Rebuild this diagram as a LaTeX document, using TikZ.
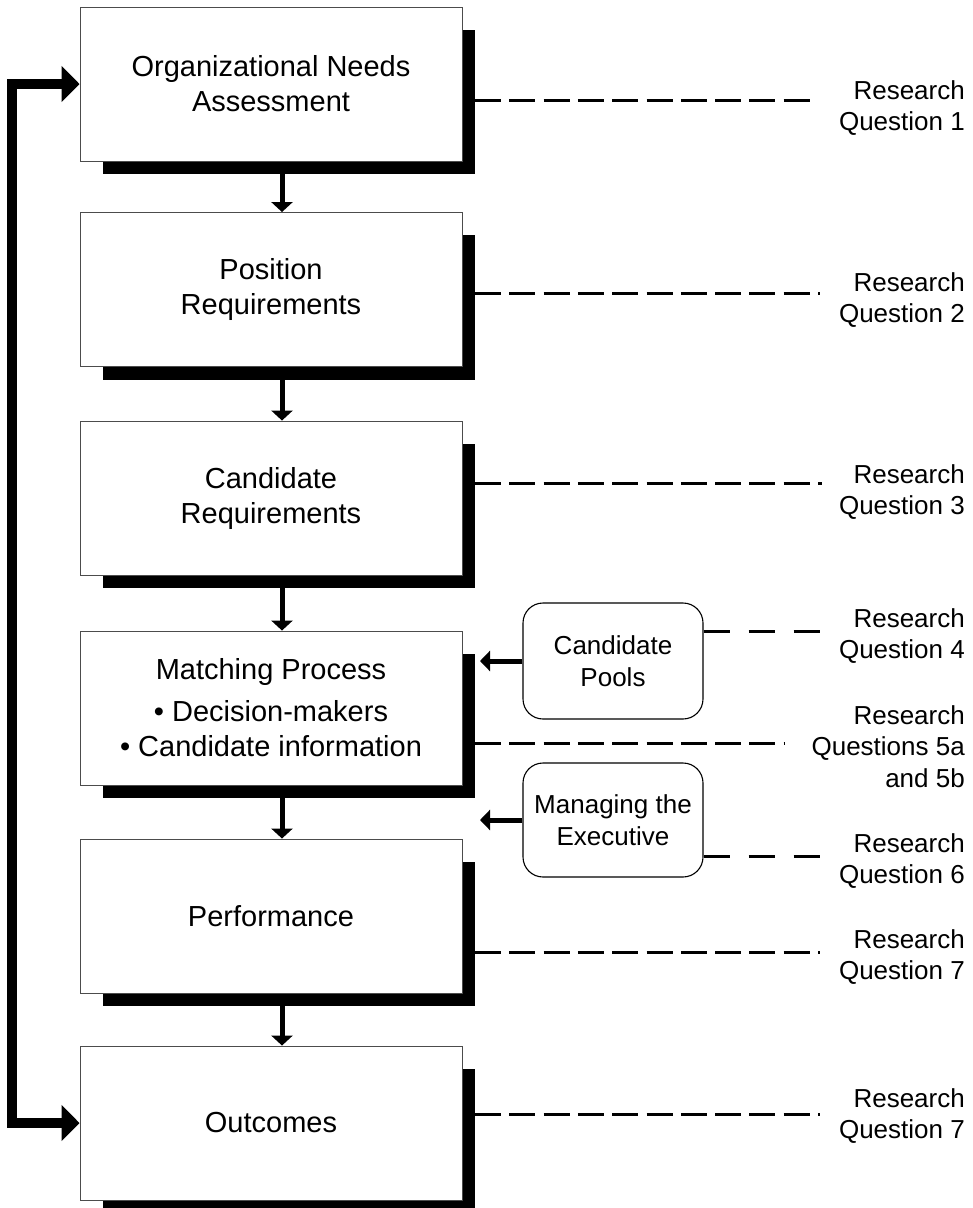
\documentclass[tikz,border=0pt]{standalone}
\usepackage{fontspec}
\setmainfont{Liberation Sans}
\usetikzlibrary{arrows.meta,calc}
\pgfdeclarelayer{bg}
\pgfsetlayers{bg,main}
\newcommand\mkshadow[1]{%
  \begin{pgfonlayer}{bg}
    \fill[black] ([xshift=23pt,yshift=-23pt]#1.north west) rectangle ([xshift=13pt,yshift=-13pt]#1.south east);
  \end{pgfonlayer}}
\begin{document}
\begin{tikzpicture}[x=1pt,y=-1pt,
  mainbox/.style={draw=black!70, line width=0.9pt, fill=white, minimum width=382pt, minimum height=154pt, inner sep=0pt, align=center, font=\fontsize{29}{35}\selectfont},
  roundbox/.style={draw=black, line width=1.1pt, fill=white, rounded corners=20pt, minimum width=180pt, inner sep=0pt, align=center, font=\fontsize{26}{32}\selectfont},
  rqlabel/.style={anchor=north east, inner sep=0pt, align=right, font=\fontsize{26}{31.5}\selectfont},
  downarrow/.style={line width=5pt, -{Triangle[length=10pt,width=21pt]}},
  sidearrow/.style={line width=5pt, -{Triangle[length=10pt,width=20pt]}},
  looparrow/.style={line width=10pt, line join=miter, {Triangle[length=18pt,width=35pt]}-{Triangle[length=18pt,width=35pt]}},
  dashline/.style={line width=3pt, dash pattern=on 26pt off 8.3pt},
  dashlong/.style={line width=3pt, dash pattern=on 26pt off 19pt},
]
\begin{pgfonlayer}{bg}
\fill[white] (0,0) rectangle (973,1208);
\end{pgfonlayer}
\useasboundingbox (0,0) rectangle (973,1208);

% main boxes
\node[mainbox] (b1) at (271,84) {Organizational Needs\\Assessment};
\node[mainbox] (b2) at (271,289.5) {Position\\Requirements};
\node[mainbox] (b3) at (271,498) {Candidate\\Requirements};
\node[mainbox] (b4) at (271,708) {Matching Process\\[7pt]• Decision-makers\\• Candidate information};
\node[mainbox] (b5) at (271,916) {Performance};
\node[mainbox] (b6) at (271,1123) {Outcomes};
\mkshadow{b1}\mkshadow{b2}\mkshadow{b3}\mkshadow{b4}\mkshadow{b5}\mkshadow{b6}

% down arrows
\draw[downarrow] ([xshift=11pt,yshift=-13pt]b1.south) -- ([xshift=11pt]b2.north);
\draw[downarrow] ([xshift=11pt,yshift=-13pt]b2.south) -- ([xshift=11pt]b3.north);
\draw[downarrow] ([xshift=11pt,yshift=-13pt]b3.south) -- ([xshift=11pt]b4.north);
\draw[downarrow] ([xshift=11pt,yshift=-13pt]b4.south) -- ([xshift=11pt]b5.north);
\draw[downarrow] ([xshift=11pt,yshift=-13pt]b5.south) -- ([xshift=11pt]b6.north);

% feedback loop
\coordinate (fbx) at (12,0);
\draw[looparrow] (b1.west) -- (b1.west -| fbx) -- (b6.west -| fbx) -- (b6.west);

% rounded boxes
\node[roundbox, minimum height=116pt] (cp) at (613,661) {Candidate\\Pools};
\node[roundbox, minimum height=114pt] (me) at (613,820) {Managing the\\Executive};
\coordinate (tipa) at (480,661);
\coordinate (tipb) at (480,820);
\draw[sidearrow] (cp.west) -- (tipa);
\draw[sidearrow] (me.west) -- (tipb);

% labels
\node[rqlabel] (q1) at (965,80) {Research\\Question 1};
\node[rqlabel] (q2) at (965,272) {Research\\Question 2};
\node[rqlabel] (q3) at (965,464) {Research\\Question 3};
\node[rqlabel] (q4) at (965,608) {Research\\Question 4};
\node[rqlabel] (q5) at (965,705) {Research\\Questions 5a\\and 5b};
\node[rqlabel] (q6) at (965,833) {Research\\Question 6};
\node[rqlabel] (q7) at (965,929) {Research\\Question 7};
\node[rqlabel] (q8) at (965,1088) {Research\\Question 7};

% dashed connectors
\coordinate (shx) at (475,0);
\coordinate (d1) at (813,100);
\coordinate (d2) at (820,293);
\coordinate (d3) at (822,483);
\coordinate (d4) at (785,743);
\coordinate (d5) at (820,952);
\coordinate (d6) at (820,1114);
\coordinate (dcp) at (820,631);
\coordinate (dme) at (823,856);
\draw[dashline] (shx |- d1) -- (d1);
\draw[dashline] (shx |- d2) -- (d2);
\draw[dashline] (shx |- d3) -- (d3);
\draw[dashline] (shx |- d4) -- (d4);
\draw[dashline] (shx |- d5) -- (d5);
\draw[dashline] (shx |- d6) -- (d6);
\draw[dashlong] (cp.east |- dcp) -- (dcp);
\draw[dashlong] (me.east |- dme) -- (dme);
\end{tikzpicture}
\end{document}
